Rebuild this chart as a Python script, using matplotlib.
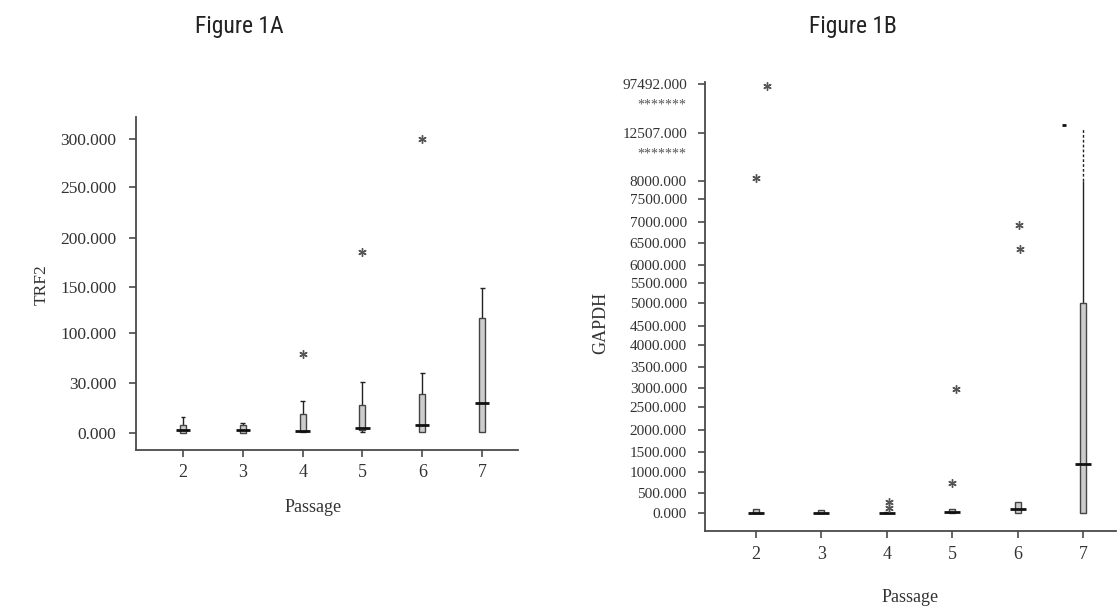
import numpy as np
import matplotlib
matplotlib.use("Agg")
import matplotlib.pyplot as plt
from matplotlib.patches import Rectangle
from matplotlib import font_manager as fm

# ---------------- data ----------------
passages = [2, 3, 4, 5, 6, 7]

trf2_whislo = [0.0, 0.0, 0.5, 0.5, 0.6, 0.6]
trf2_q1 = [0.0, 0.0, 0.5, 1.8, 0.6, 0.6]
trf2_med = [1.8, 2.0, 1.0, 3.0, 4.8, 18.0]
trf2_q3 = [4.8, 4.8, 11.4, 17.0, 23.4, 116.0]
trf2_whishi = [9.6, 6.0, 19.0, 31.0, 44.0, 149.0]
trf2_out_x = [4, 5, 6]
trf2_out_y = [70.6, 185.7, 300.0]
trf2_ticks = [0, 30, 100, 150, 200, 250, 300]
trf2_ticklabels = ["0.000", "30.000", "100.000", "150.000", "200.000", "250.000", "300.000"]

gapdh_whislo = [0, 0, 0, 0, 0, 0]
gapdh_q1 = [0, 0, 0, 0, 0, 0]
gapdh_med = [0, 0, 0, 25, 100, 1200]
gapdh_q3 = [100, 75, 30, 100, 275, 5000]
gapdh_whishi = [100, 75, 30, 100, 275, 8000]
gapdh_whisker_ext = 21000          # dashed whisker extension for passage 7
gapdh_extreme_mark = 26400         # short dash marker near passage 7
gapdh_out_x = [2, 2, 4, 4, 5, 5, 6, 6]
gapdh_out_y = [94000, 8280, 275, 125, 2970, 740, 6930, 6360]
gapdh_ticks = [0, 500, 1000, 1500, 2000, 2500, 3000, 3500, 4000, 4500, 5000,
               5500, 6000, 6500, 7000, 7500, 8000, 12507, 97492]
gapdh_ticklabels = ["%.3f" % v for v in gapdh_ticks]

# ---------------- style / layout ----------------
gapdh_out_dx = [0.17, 0.0, 0.03, 0.03, 0.05, 0.0, 0.02, 0.03]

# pixel positions of tick values (piecewise axis) -- layout only
trf2_anchor_vals = [-300] + trf2_ticks + [800]
trf2_anchor_pos = [-500, 0, 50, 100, 146, 195, 246, 294, 294 + 500 * 0.97]
gapdh_anchor_vals = [-20000] + gapdh_ticks + [500000]
gapdh_pix = [513, 493, 472, 452, 430, 407, 388, 367, 345, 326, 303,
             283, 265, 243, 222, 199, 181, 133, 84]
gapdh_anchor_pos = [-800] + [513 - p for p in gapdh_pix] + [429 + (500000 - 97492) / 84985 * 49]


def make_scale(vals, pos):
    vals = np.asarray(vals, float)
    pos = np.asarray(pos, float)

    def fwd(y):
        return np.interp(y, vals, pos)

    def inv(p):
        return np.interp(p, pos, vals)
    return fwd, inv


names = {f.name for f in fm.fontManager.ttflist}
title_family = ["Liberation Sans"]
title_size = 15.5
for cand in ["Liberation Sans Narrow", "Roboto Condensed", "Open Sans Condensed",
             "DejaVu Sans Condensed", "Noto Sans Condensed"]:
    if cand in names:
        title_family = [cand]
        title_size = 17
        break

serif = ["Liberation Serif", "DejaVu Serif"]

plt.rcParams["font.family"] = serif
TXT = "#333333"
SPINE = "#4a4a4a"
BOXFILL = "#cccccc"
OUTC = "#555555"

W, H = 1117, 608
fig = plt.figure(figsize=(W / 100, H / 100), dpi=100)


def px_axes(l, t, r, b):
    return fig.add_axes([l / W, 1 - b / H, (r - l) / W, (b - t) / H])


def style_axes(ax, ytick_fs, xtick_fs, padx, pady):
    for s in ["top", "right"]:
        ax.spines[s].set_visible(False)
    for s in ["left", "bottom"]:
        ax.spines[s].set_color(SPINE)
        ax.spines[s].set_linewidth(1.3)
    ax.tick_params(axis="y", direction="out", length=5, width=1.2, color=SPINE,
                   labelcolor=TXT, labelsize=ytick_fs, pad=pady)
    ax.tick_params(axis="x", direction="out", length=5, width=1.2, color=SPINE,
                   labelcolor=TXT, labelsize=xtick_fs, pad=padx)


def draw_box(ax, x, lo, q1, med, q3, hi, bw, mw, cw, caps=True):
    if hi > q3:
        ax.vlines(x, q3, hi, color="#222222", lw=1.0, zorder=2)
        if caps:
            ax.hlines(hi, x - cw, x + cw, color="#222222", lw=1.0, zorder=2)
    if lo < q1:
        ax.vlines(x, lo, q1, color="#222222", lw=1.0, zorder=2)
        ax.hlines(lo, x - cw, x + cw, color="#222222", lw=1.0, zorder=2)
    ax.add_patch(Rectangle((x - bw / 2, q1), bw, q3 - q1, facecolor=BOXFILL,
                           edgecolor="#444444", lw=1.0, zorder=3))
    ax.hlines(med, x - mw, x + mw, color="#111111", lw=2.0, zorder=4)


# ---------------- Figure 1A ----------------
ax1 = px_axes(136, 117, 518, 450)
f1, i1 = make_scale(trf2_anchor_vals, trf2_anchor_pos)
ax1.set_yscale("function", functions=(f1, i1))
ax1.set_ylim(-10.2, 323)
ax1.set_xlim(1.214, 7.60)
for k, p in enumerate(passages):
    draw_box(ax1, p, trf2_whislo[k], trf2_q1[k], trf2_med[k], trf2_q3[k],
             trf2_whishi[k], bw=0.10, mw=0.12, cw=0.04)
ax1.plot(trf2_out_x, trf2_out_y, linestyle="none", marker=(6, 2, 0),
         markersize=6, color=OUTC, markeredgewidth=1.0, zorder=5)
ax1.set_yticks(trf2_ticks)
ax1.set_yticklabels(trf2_ticklabels)
ax1.yaxis.set_minor_locator(matplotlib.ticker.NullLocator())
ax1.set_xticks(passages)
ax1.set_xticklabels([str(p) for p in passages])
style_axes(ax1, 12.5, 13, padx=5, pady=9)
ax1.set_xlabel("Passage", fontsize=13, color=TXT)
ax1.xaxis.set_label_coords((313 - 136) / 382, (450 - 508) / 333)
ax1.xaxis.label.set_va("center")
ax1.set_ylabel("TRF2", fontsize=12.5, color=TXT)
ax1.yaxis.set_label_coords((42 - 136) / 382, (450 - 285) / 333)
ax1.yaxis.label.set_va("center")
fig.text(239 / W, 1 - 27 / H, "Figure 1A", family=title_family, fontsize=title_size,
         color="#222222", ha="center", va="center")

# ---------------- Figure 1B ----------------
ax2 = px_axes(705, 82, 1116, 531)
f2, i2 = make_scale(gapdh_anchor_vals, gapdh_anchor_pos)
ax2.set_yscale("function", functions=(f2, i2))
ax2.set_ylim(-450, 100960)
ax2.set_xlim(1.223, 7.50)
for k, p in enumerate(passages):
    draw_box(ax2, p, gapdh_whislo[k], gapdh_q1[k], gapdh_med[k], gapdh_q3[k],
             gapdh_whishi[k], bw=0.09, mw=0.12, cw=0.04, caps=(p != 7))
# dashed whisker extension for passage 7
ax2.vlines(7, gapdh_whishi[5], gapdh_whisker_ext, color="#222222", lw=1.0,
           linestyles=(0, (2, 1.5)), zorder=2)
ax2.hlines(gapdh_extreme_mark, 6.67, 6.73, color="#111111", lw=2.0, zorder=4)
ax2.plot(np.array(gapdh_out_x) + np.array(gapdh_out_dx), gapdh_out_y,
         linestyle="none", marker=(6, 2, 0), markersize=6, color=OUTC,
         markeredgewidth=1.0, zorder=5)
ax2.set_yticks(gapdh_ticks)
ax2.set_yticklabels(gapdh_ticklabels)
ax2.yaxis.set_minor_locator(matplotlib.ticker.NullLocator())
ax2.set_xticks(passages)
ax2.set_xticklabels([str(p) for p in passages])
style_axes(ax2, 11, 13, padx=6, pady=8)
ax2.set_xlabel("Passage", fontsize=13, color=TXT)
ax2.xaxis.set_label_coords((910 - 705) / 411, (531 - 597) / 449)
ax2.xaxis.label.set_va("center")
ax2.set_ylabel("GAPDH", fontsize=13, color=TXT)
ax2.yaxis.set_label_coords((601 - 705) / 411, (531 - 323) / 449)
ax2.yaxis.label.set_va("center")
for yfrac in [0.949, 0.840]:
    ax2.text(-0.045, yfrac, "*******", transform=ax2.transAxes, ha="right",
             va="center", fontsize=10, color="#555555")
fig.text(853 / W, 1 - 27 / H, "Figure 1B", family=title_family, fontsize=title_size,
         color="#222222", ha="center", va="center")

fig.savefig("out.png", dpi=100)
